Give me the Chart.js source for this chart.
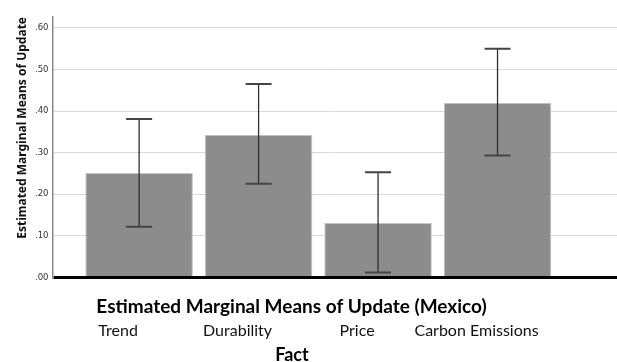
<!DOCTYPE html>
<html>
<head>
<meta charset="utf-8">
<script src="https://cdn.jsdelivr.net/npm/chart.js@4"></script>
<style>
  body { margin: 0; background: #fff; }
  #wrap { width: 617px; height: 362px; position: relative; }
</style>
</head>
<body>
<div id="wrap"><canvas id="emmChart"></canvas></div>
<script>
// Values
const categories = ['Trend', 'Durability', 'Price', 'Carbon Emissions'];
const means = [0.251, 0.343, 0.131, 0.420];
const lower = [0.122, 0.225, 0.012, 0.293];
const upper = [0.381, 0.465, 0.253, 0.550];

const chartTitle = 'Estimated Marginal Means of Update (Mexico)';
const xTitle = 'Fact';
const yTitle = 'Estimated Marginal Means of Update';

// error bars drawn from the lower/upper arrays through the scales
const errorBars = {
    id: 'errorBars',
    afterDatasetsDraw(chart) {
        const { ctx, scales: { x, y } } = chart;
        ctx.save();
        lower.forEach((lo, i) => {
            const px = x.getPixelForValue(i + 1);
            const yLo = y.getPixelForValue(lo);
            const yHi = y.getPixelForValue(upper[i]);
            ctx.strokeStyle = '#2f2f2f';
            ctx.lineWidth = 1.3;
            ctx.beginPath();
            ctx.moveTo(px, yLo);
            ctx.lineTo(px, yHi);
            ctx.stroke();
            ctx.strokeStyle = '#444';
            ctx.lineWidth = 2;
            ctx.beginPath();
            ctx.moveTo(px - 13, yLo);
            ctx.lineTo(px + 13, yLo);
            ctx.moveTo(px - 13, yHi);
            ctx.lineTo(px + 13, yHi);
            ctx.stroke();
        });
        ctx.restore();
    }
};

// the bottom texts sit off-centre in the reference, so draw them here
const bottomTexts = {
    id: 'bottomTexts',
    afterDraw(chart) {
        const ctx = chart.ctx;
        ctx.save();
        ctx.fillStyle = '#000';
        ctx.textAlign = 'center';
        ctx.textBaseline = 'middle';
        ctx.font = 'bold 19px Lato';
        ctx.fillText(chartTitle, 291.5, 307);
        ctx.font = 'bold 18px Lato';
        ctx.fillText(xTitle, 292, 355);
        ctx.restore();
    }
};

new Chart(document.getElementById('emmChart'), {
    type: 'bar',
    data: {
        datasets: [{
            data: means.map((m, i) => ({ x: i + 1, y: m })),
            backgroundColor: '#8c8c8c',
            borderColor: '#c4c4c4',
            borderWidth: 1,
            borderSkipped: 'bottom',
            barPercentage: 0.9,
            categoryPercentage: 1
        }]
    },
    options: {
        responsive: true,
        maintainAspectRatio: false,
        animation: false,
        layout: { padding: { top: 17, right: 0, bottom: 22, left: 0 } },
        scales: {
            x: {
                type: 'linear',
                min: 0.275,
                max: 5,
                offset: false,
                afterFit: scale => { scale.height = 62.5; },
                grid: { display: false, drawTicks: false, offset: false },
                border: { display: false },
                afterBuildTicks: scale => {
                    scale.ticks = categories.map((c, i) => ({ value: i + 1 }));
                },
                ticks: {
                    autoSkip: false,
                    maxRotation: 0,
                    padding: 44,
                    labelOffset: -21,
                    color: '#111',
                    font: { family: 'Lato', size: 16 },
                    callback: v => categories[v - 1]
                }
            },
            y: {
                min: 0,
                max: 0.626,
                afterFit: scale => { scale.width = 52.5; },
                grid: {
                    drawTicks: false,
                    color: c => c.tick && c.tick.value === 0 ? '#000' : '#d8d8d8',
                    lineWidth: c => c.tick && c.tick.value === 0 ? 3 : 1
                },
                border: { color: '#8a8a8a', width: 1.5 },
                ticks: {
                    stepSize: 0.1,
                    includeBounds: false,
                    padding: 4,
                    color: '#333',
                    font: { family: 'DejaVu Sans', size: 8.5 },
                    callback: v => v.toFixed(2).replace(/^0/, '')
                },
                title: {
                    display: true,
                    text: yTitle,
                    align: 'end',
                    color: '#111',
                    padding: { top: 15, bottom: 0 },
                    font: { family: 'Noto Sans', size: 12, weight: 'bold' }
                }
            }
        },
        plugins: {
            legend: { display: false },
            tooltip: { enabled: false }
        }
    },
    plugins: [errorBars, bottomTexts]
});
</script>
</body>
</html>
